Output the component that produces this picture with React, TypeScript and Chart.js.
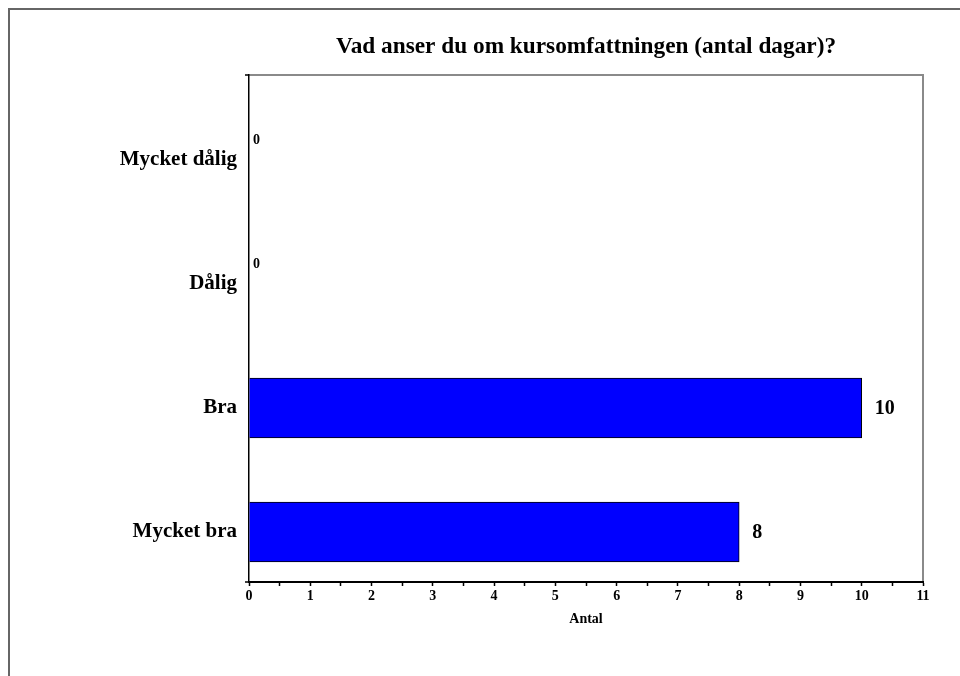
import React, { useEffect, useRef } from "react";
import { Chart, registerables } from "chart.js";

Chart.register(...registerables);

const TITLE = "Vad anser du om kursomfattningen (antal dagar)?";
const CATEGORIES = ["Mycket dålig", "Dålig", "Bra", "Mycket bra"];
const VALUES = [0, 0, 10, 8];
const X_MIN = 0;
const X_MAX = 11;
const X_TITLE = "Antal";

const FONT = "'Liberation Serif', 'Times New Roman', serif";

const framePlugin = {
  id: "frame",
  beforeDraw(chart: any) {
    const { ctx, chartArea: a } = chart;
    ctx.save();
    ctx.strokeStyle = "#8a8a8a";
    ctx.lineWidth = 2;
    ctx.beginPath();
    ctx.moveTo(a.left, a.top);
    ctx.lineTo(a.right, a.top);
    ctx.lineTo(a.right, a.bottom);
    ctx.stroke();
    ctx.strokeStyle = "#000";
    ctx.lineWidth = 1.5;
    ctx.beginPath();
    ctx.moveTo(a.left - 4, a.top);
    ctx.lineTo(a.left, a.top);
    ctx.moveTo(a.left - 4, a.bottom);
    ctx.lineTo(a.left, a.bottom);
    ctx.stroke();
    ctx.restore();
  },
};

const labelPlugin = {
  id: "valueLabels",
  afterDatasetsDraw(chart: any) {
    const { ctx } = chart;
    const meta = chart.getDatasetMeta(0);
    ctx.save();
    ctx.fillStyle = "#000";
    ctx.textAlign = "left";
    ctx.textBaseline = "middle";
    meta.data.forEach((el: any, i: number) => {
      const v = VALUES[i];
      if (v > 0) {
        ctx.font = `bold 20px ${FONT}`;
        ctx.fillText(String(v), el.x + 13, el.y + 1);
      } else {
        ctx.font = `bold 14px ${FONT}`;
        ctx.fillText(String(v), el.x + 4, el.y - 20);
      }
    });
    ctx.restore();
  },
};

export default function App() {
  const ref = useRef<HTMLCanvasElement>(null);

  useEffect(() => {
    if (!ref.current) return;
    const chart = new Chart(ref.current, {
      type: "bar",
      data: {
        datasets: [
          {
            data: VALUES.map((v, i) => ({ x: v, y: i })),
            backgroundColor: "#0000ff",
            borderColor: "#000",
            borderWidth: 1,
            barThickness: 60,
          },
        ],
      },
      options: {
        indexAxis: "y",
        animation: false,
        responsive: false,
        layout: { padding: { left: 0, right: 37, top: 0, bottom: 0 } },
        plugins: {
          legend: { display: false },
          tooltip: { enabled: false },
          title: {
            display: true,
            text: TITLE,
            fullSize: false,
            color: "#000",
            font: { family: FONT, size: 23.3, weight: "bold" },
            padding: { top: 23, bottom: 14 },
          },
        },
        scales: {
          y: {
            type: "linear",
            reverse: true,
            offset: false,
            min: -0.6855,
            max: 3.403,
            afterBuildTicks: (scale: any) => {
              scale.ticks = CATEGORIES.map((_, i) => ({ value: i }));
            },
            afterFit: (scale: any) => {
              scale.width = 239;
            },
            ticks: {
              callback: (v: any) => CATEGORIES[v] ?? "",
              color: "#000",
              font: { family: FONT, size: 21, weight: "bold" },
              padding: 12,
              autoSkip: false,
            },
            grid: { drawOnChartArea: false, drawTicks: false },
            border: { display: true, color: "#000", width: 1.5 },
          },
          x: {
            type: "linear",
            min: X_MIN,
            max: X_MAX,
            offset: false,
            afterFit: (scale: any) => {
              scale.height = 78;
            },
            ticks: {
              stepSize: 0.5,
              autoSkip: false,
              maxRotation: 0,
              callback: (v: any) => (Number.isInteger(v) ? String(v) : ""),
              color: "#000",
              font: { family: FONT, size: 14, weight: "bold" },
              padding: 2,
            },
            grid: { drawOnChartArea: false, tickLength: 4, color: "#000", tickWidth: 1.5 },
            border: { display: true, color: "#000", width: 2 },
            title: {
              display: true,
              text: X_TITLE,
              color: "#000",
              font: { family: FONT, size: 14, weight: "bold" },
              padding: { top: 0, bottom: 32.6 },
            },
          },
        },
      },
      plugins: [framePlugin, labelPlugin],
    });
    return () => chart.destroy();
  }, []);

  return (
    <div
      style={{
        position: "fixed",
        left: 8,
        top: 8,
        borderTop: "2px solid #666",
        borderLeft: "2px solid #666",
        width: 960,
        height: 700,
      }}
    >
      <canvas ref={ref} width={950} height={650} style={{ display: "block" }} />
    </div>
  );
}
